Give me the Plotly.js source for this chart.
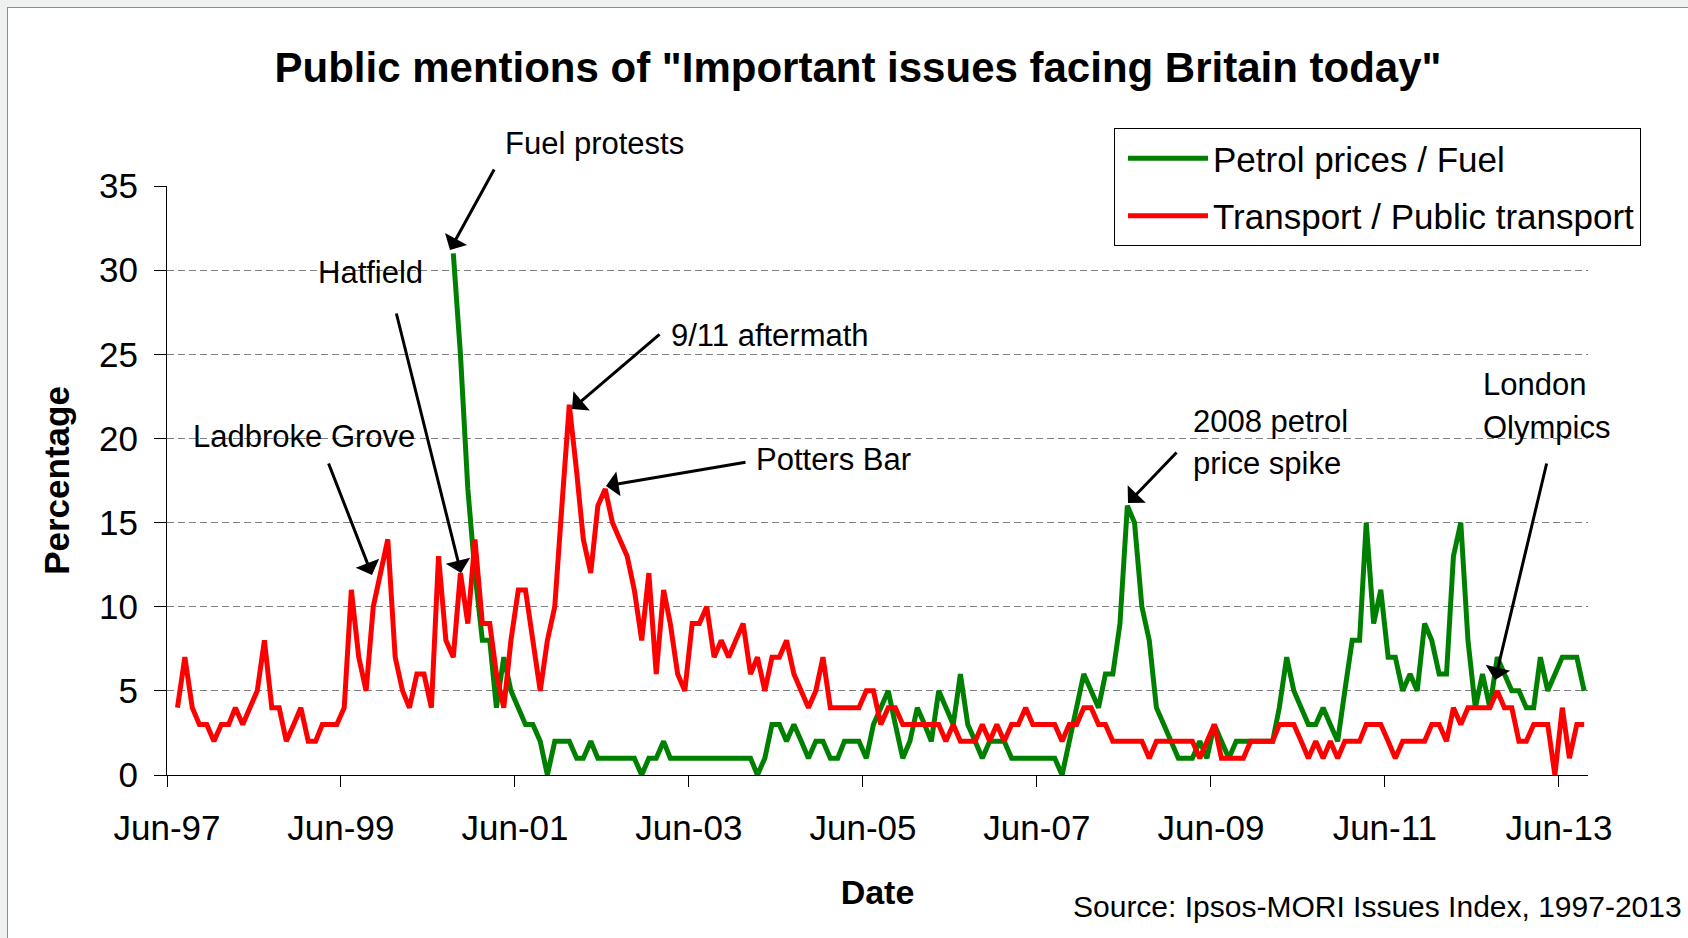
<!DOCTYPE html>
<html>
<head>
<meta charset="utf-8">
<script src="https://cdn.plot.ly/plotly-3.0.1.min.js"></script>
<style>
  html, body { margin: 0; padding: 0; background: #eef1ef; width: 1688px; height: 938px; overflow: hidden; }
  #chart { position: absolute; left: 7px; top: 7px; width: 1680px; height: 930px;
           border-left: 1px solid #8c8c8c; border-top: 1px solid #8c8c8c; background: #fff; }
</style>
</head>
<body>
<div id="chart"></div>
<script>
// ---- Data (monthly, Ipsos-MORI Issues Index, % mentioning) ----
const transportStart = [1997, 7];   // Jul-97
const transport = [
  4,7,4,3,3,2,3,3,4,3,
  4,5,8,4,4,2,3,4,2,2,
  3,3,3,4,11,7,5,10,12,14,
  7,5,4,6,6,4,13,8,7,12,
  9,14,9,9,6,4,8,11,11,8,
  5,8,10,16,22,18,14,12,16,17,
  15,14,13,11,8,12,6,11,9,6,
  5,9,9,10,7,8,7,8,9,6,
  7,5,7,7,8,6,5,4,5,7,
  4,4,4,4,4,5,5,3,4,4,
  3,3,3,3,3,3,2,3,2,2,
  2,3,2,3,2,3,3,4,3,3,
  3,3,2,3,3,4,4,3,3,2,
  2,2,2,2,1,2,2,2,2,2,
  2,1,2,3,1,1,1,1,2,2,
  2,2,3,3,3,2,1,2,1,2,
  1,2,2,2,3,3,3,2,1,2,
  2,2,2,3,3,2,4,3,4,4,
  4,4,5,4,4,2,2,3,3,3,
  0,4,1,3,3
];
const petrolStart = [2000, 9];      // Sep-00
const petrol = [
  31,25,17,12,8,8,4,7,5,4,
  3,3,2,0,2,2,2,1,1,2,
  1,1,1,1,1,1,0,1,1,2,
  1,1,1,1,1,1,1,1,1,1,
  1,1,0,1,3,3,2,3,2,1,
  2,2,1,1,2,2,2,1,3,4,
  5,3,1,2,4,3,2,5,4,3,
  6,3,2,1,2,2,2,1,1,1,
  1,1,1,1,0,2,4,6,5,4,
  6,6,9,16,15,10,8,4,3,2,
  1,1,1,2,1,3,2,1,2,2,
  2,2,2,2,4,7,5,4,3,3,
  4,3,2,5,8,8,15,9,11,7,
  7,5,6,5,9,8,6,6,13,15,
  8,4,6,4,7,6,5,5,4,4,
  7,5,6,7,7,7,5
];
const seriesNames = ['Petrol prices / Fuel', 'Transport / Public transport'];
const seriesColors = ['#008000', '#ff0000'];
const yTickValues = [0, 5, 10, 15, 20, 25, 30, 35];

// month categories (mid-month dates) for each series
function monthDates(start, n) {
  const out = [];
  for (let i = 0; i < n; i++) {
    const mm = start[1] - 1 + i;
    const yy = start[0] + Math.floor(mm / 12);
    const mo = (mm % 12) + 1;
    out.push(yy + '-' + String(mo).padStart(2, '0') + '-15');
  }
  return out;
}

const FONT = 'Liberation Sans, Arial, Helvetica, sans-serif';

// layout geometry (page pixels -> paper coords)
const L = 167, R = 1588, T = 186, B = 775;
const px = v => (v - L) / (R - L);
const py = v => (B - v) / (B - T);

function arrow(hx, hy, tx, ty) {
  return { xref: 'paper', yref: 'paper', x: px(hx), y: py(hy),
    ax: tx - hx, ay: ty - hy, axref: 'pixel', ayref: 'pixel',
    text: '', showarrow: true, arrowhead: 1, arrowsize: 1.4, arrowwidth: 3,
    arrowcolor: '#000', standoff: 0, startstandoff: 0 };
}
function label(text, x, y, xanchor, size) {
  return { xref: 'paper', yref: 'paper', x: px(x), y: py(y), text: text,
    showarrow: false, xanchor: xanchor || 'center', yanchor: 'middle',
    font: { family: FONT, size: size || 31, color: '#000' } };
}

const traces = [
  { x: monthDates(petrolStart, petrol.length), y: petrol, name: seriesNames[0],
    legendgroup: 'g1',
    type: 'scatter', mode: 'lines', line: { color: seriesColors[0], width: 5 } },
  { x: monthDates(transportStart, transport.length), y: transport, name: seriesNames[1],
    legendgroup: 'g2',
    type: 'scatter', mode: 'lines', line: { color: seriesColors[1], width: 5 } }
];

const layout = {
  width: 1680, height: 930,
  margin: { l: L - 8, r: 1688 - R, t: T - 8, b: 938 - B },
  paper_bgcolor: '#fff', plot_bgcolor: '#fff',
  font: { family: FONT, color: '#000' },
  title: { text: '<b>Public mentions of "Important issues facing Britain today"</b>',
    font: { family: FONT, size: 42, color: '#000' },
    x: (858 - 8) / 1680, xanchor: 'center', xref: 'container',
    y: 1 - (67 - 8) / 930, yanchor: 'middle', yref: 'container' },
  xaxis: {
    type: 'date', range: ['1997-06-01', '2013-10-01'],
    tick0: '1997-06-01', dtick: 'M24', tickformat: '%b-%y',
    ticks: 'outside', ticklen: 11, tickcolor: '#000', tickwidth: 1,
    ticklabelstandoff: 11,
    showline: true, linecolor: '#000', linewidth: 1,
    showgrid: false, zeroline: false,
    tickfont: { family: FONT, size: 35, color: '#000' },
    title: { text: '<b>Date</b>', font: { family: FONT, size: 34, color: '#000' }, standoff: 34 }
  },
  yaxis: {
    range: [0, 35], tickvals: yTickValues,
    ticks: 'outside', ticklen: 12, tickcolor: '#000', tickwidth: 1,
    ticklabelstandoff: 9,
    showline: true, linecolor: '#000', linewidth: 1,
    showgrid: true, gridcolor: '#808080', gridwidth: 1, griddash: '7px,4px',
    zeroline: false,
    tickfont: { family: FONT, size: 35, color: '#000' },
    title: { text: '<b>Percentage</b>', font: { family: FONT, size: 35, color: '#000' }, standoff: 18 }
  },
  showlegend: true,
  legend: {
    x: px(1114), y: py(128), xanchor: 'left', yanchor: 'top',
    bgcolor: '#fff', bordercolor: '#000', borderwidth: 1,
    font: { family: FONT, size: 35, color: '#000' },
    itemwidth: 80, tracegroupgap: 9, indentation: 8
  },
  annotations: [
    label('Fuel protests', 594, 143),
    arrow(450, 250, 495, 168),
    label('Hatfield', 370, 272),
    arrow(461, 573, 396, 312),
    label('Ladbroke Grove', 304, 436),
    arrow(372, 575, 328, 462),
    label('9/11 aftermath', 770, 335),
    arrow(572, 409, 661, 333),
    label('Potters Bar', 833, 459),
    arrow(606, 486, 747, 462),
    label('2008 petrol', 1191, 421, 'left'),
    label('price spike', 1191, 463, 'left'),
    arrow(1128, 503, 1178, 451),
    label('London', 1481, 384, 'left'),
    label('Olympics', 1481, 427, 'left'),
    arrow(1495, 680, 1547, 462),
    label('Source: Ipsos-MORI Issues Index, 1997-2013', 1684, 906, 'right', 30)
  ]
};

Plotly.newPlot('chart', traces, layout, { displayModeBar: false, staticPlot: true });
</script>
</body>
</html>
